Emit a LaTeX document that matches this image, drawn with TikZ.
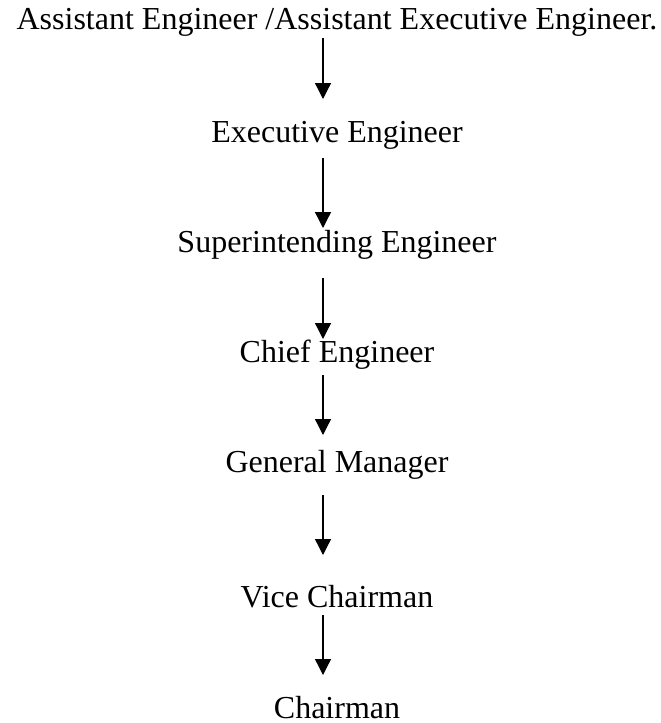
\documentclass[tikz,border=0pt]{standalone}
\usepackage{fontspec}
\setmainfont{Liberation Serif}
\usetikzlibrary{arrows.meta}
\tikzset{
  rank/.style={anchor=base, inner sep=0pt, font=\fontsize{32}{38}\selectfont},
  promote/.style={line width=1.3pt, -{Triangle[width=16pt, length=16pt]}}
}
\begin{document}
\begin{tikzpicture}[x=1pt, y=1pt]
        \useasboundingbox (0, 0) rectangle (661, -723);
        \node [rank] (ae) at (337, -29) {Assistant Engineer /Assistant Executive Engineer.};
        \node [rank] (ee) at (337, -142) {Executive Engineer};
        \node [rank] (se) at (337, -252) {Superintending Engineer};
        \node [rank] (ce) at (337, -362) {Chief Engineer};
        \node [rank] (gm) at (337, -472) {General Manager};
        \node [rank] (vc) at (337, -607) {Vice Chairman};
        \node [rank] (ch) at (337, -718) {Chairman};
        \foreach \from/\to [count=\i] in {38/99, 158/228, 278/339, 375/435, 495/555, 615/675} {
          \coordinate (from\i) at (323, -\from);
          \coordinate (to\i) at (323, -\to);
          \draw [promote] (from\i) -- (to\i);
        }
\end{tikzpicture}
\end{document}
